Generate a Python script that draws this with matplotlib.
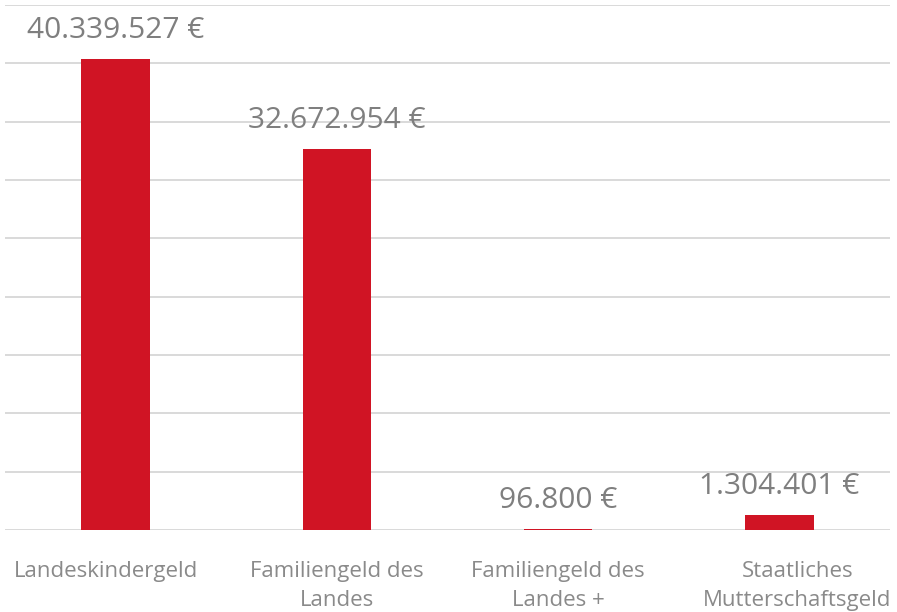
import matplotlib.pyplot as plt
import matplotlib.transforms as mtransforms

# Data
categories = ["Landeskindergeld", "Familiengeld des\nLandes", "Familiengeld des\nLandes +",
              "Staatliches\nMutterschaftsgeld"]
values = [40339527, 32672954, 96800, 1304401]
labels = ["40.339.527 €", "32.672.954 €", "96.800 €", "1.304.401 €"]

plt.rcParams['font.family'] = ['Open Sans', 'DejaVu Sans']

fig = plt.figure(figsize=(8.97, 6.12), dpi=100)
ax = fig.add_axes([5 / 897, 82 / 612, 885 / 897, 525 / 612])

x = range(len(categories))
ax.bar(x, values, width=0.31, color='#D01424', linewidth=0, zorder=3)

for xi, v, lab in zip(x, values, labels):
    ax.annotate(lab, (xi, v), xytext=(0, 10), textcoords='offset points',
                ha='center', va='bottom', fontsize=21.5, color='#7f7f7f')

ax.set_xlim(-0.5, len(categories) - 0.5)
ax.set_ylim(0, 45e6)
ax.set_yticks(range(0, 45000001, 5000000))
ax.set_yticklabels([])
ax.tick_params(axis='y', length=0)
ax.set_xticks(list(x))
ax.set_xticklabels(categories, fontsize=16, color='#8a8a8a', linespacing=1.55)
ax.tick_params(axis='x', length=0, pad=22)
ax.grid(axis='y', color='#d9d9d9', linewidth=1.4, zorder=0)
for s in ax.spines.values():
    s.set_visible(False)

# Excel nudges the outer category labels a little
ticklabels = ax.get_xticklabels()
for lbl, dx in [(ticklabels[0], -10), (ticklabels[-1], 18)]:
    lbl.set_transform(lbl.get_transform() +
                      mtransforms.ScaledTranslation(dx / 100, 0, fig.dpi_scale_trans))

fig.savefig("out.png", dpi=100)
